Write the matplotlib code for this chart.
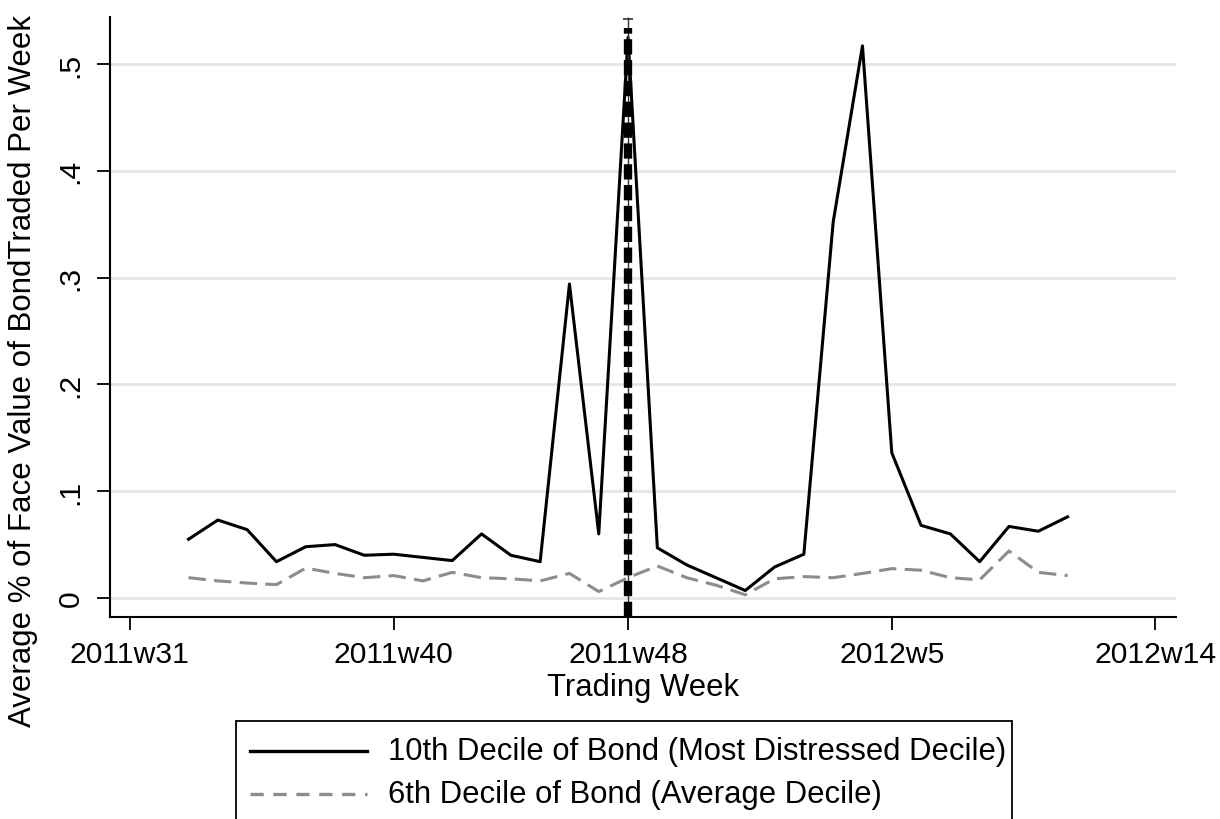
import numpy as np
import matplotlib
matplotlib.use('Agg')
import matplotlib.pyplot as plt
from matplotlib.lines import Line2D
from matplotlib.patches import Rectangle

plt.rcParams['font.family'] = ['Liberation Sans', 'DejaVu Sans']
plt.rcParams['lines.scale_dashes'] = False

# weeks counted from 2011w31 (index 0), Stata weekly calendar with 52 weeks/yr
week_idx = list(range(2, 33))
decile10 = [0.055, 0.073, 0.064, 0.034, 0.048, 0.050, 0.040, 0.041, 0.038, 0.035,
            0.060, 0.040, 0.034, 0.294, 0.060, 0.525, 0.047, 0.031, 0.019, 0.007,
            0.029, 0.041, 0.352, 0.517, 0.136, 0.068, 0.060, 0.034, 0.067, 0.0625,
            0.076]
decile6 = [0.019, 0.016, 0.014, 0.0125, 0.028, 0.023, 0.019, 0.021, 0.016, 0.024,
           0.019, 0.018, 0.016, 0.023, 0.006, 0.019, 0.030, 0.019, 0.012, 0.003,
           0.018, 0.020, 0.019, 0.023, 0.0275, 0.026, 0.019, 0.017, 0.044, 0.024,
           0.021]

xtick_idx = [0, 9, 17, 26, 35]
xtick_labels = ['2011w31', '2011w40', '2011w48', '2012w5', '2012w14']
ytick_vals = [0, 0.1, 0.2, 0.3, 0.4, 0.5]
ytick_labels = ['0', '.1', '.2', '.3', '.4', '.5']
event_week = 17  # 2011w48

legend_labels = ['10th Decile of Bond (Most Distressed Decile)',
                 '6th Decile of Bond (Average Decile)']

W, H = 1220, 820
fig = plt.figure(figsize=(W / 100, H / 100), dpi=100)
ax = fig.add_axes([110 / W, (H - 618) / H, (1176 - 110) / W, (618 - 18) / H])

ymin, ymax = -0.0178, 0.544
ax.set_xlim(-0.68, 35.7)
ax.set_ylim(ymin, ymax)

for v in ytick_vals:
    ax.axhline(v, color='#e6e6e6', lw=2.0, zorder=0)

ax.plot(week_idx, decile10, color='black', lw=2.2, zorder=3)
ax.plot(week_idx, decile6, color='#8c8c8c', lw=2.2, dashes=(12.5, 6), zorder=2)

# event line
ax.vlines(event_week, ymin, ymax, color='#333333', lw=1.0, zorder=4)
ax.plot([event_week], [ymax - 0.002], marker='_', ms=7, mew=1.2, color='#333333',
        clip_on=False, zorder=4)
ax.vlines(event_week, ymin, ymax - 0.01, color='black', lw=6,
          linestyles=[(0, (11, 4))], zorder=5)

for s in ['top', 'right']:
    ax.spines[s].set_visible(False)
for s in ['left', 'bottom']:
    ax.spines[s].set_linewidth(1.5)

ax.set_xticks(xtick_idx)
ax.set_xticklabels(xtick_labels, fontsize=21.7)
ax.set_yticks(ytick_vals)
ax.set_yticklabels(ytick_labels, fontsize=21.7, rotation=90, va='center')
ax.tick_params(axis='both', length=9.4, width=1.3, direction='out')
ax.tick_params(axis='x', pad=7)
ax.tick_params(axis='y', pad=9)

ax.set_xlabel('Trading Week', fontsize=22.3, labelpad=3)
fig.text(23 / W, 1 - 371 / H, 'Average % of Face Value of BondTraded Per Week',
         rotation=90, ha='center', va='center', fontsize=22.5)

# legend box (bottom runs off the image)
fig.add_artist(Rectangle((236 / W, -0.05), (1012 - 236) / W, 0.05 + (H - 722) / H,
                         transform=fig.transFigure, fill=False, ec='black', lw=1.3))
rows_y = [752, 795]
styles = [dict(color='black', lw=2.4), dict(color='#8c8c8c', lw=2.4, dashes=(9.5, 7))]
for yy, lab, st in zip(rows_y, legend_labels, styles):
    fy = 1 - yy / H
    fig.add_artist(Line2D([250 / W, 367 / W], [fy, fy], transform=fig.transFigure, **st))
    fig.text(388 / W, fy, lab, ha='left', va='center', fontsize=22.3)

fig.savefig('out.png', dpi=100)
